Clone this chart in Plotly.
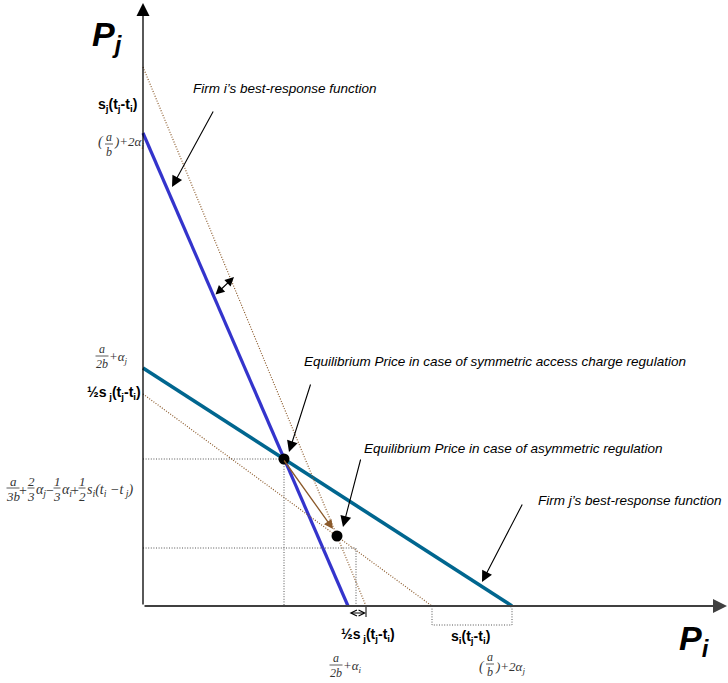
import plotly.graph_objects as go

# ---------------- data (P_i horizontal, P_j vertical, origin = 0) ----------------
firm_i_br_pi = [0, 205]      # Firm i's best-response function
firm_i_br_pj = [473, 0]
firm_j_br_pi = [0, 369]      # Firm j's best-response function
firm_j_br_pj = [238, 0]
firm_i_asym_pi = [0, 223]    # shifted best response of firm i (asymmetric)
firm_i_asym_pj = [539, 0]
firm_j_asym_pi = [0, 289]    # shifted best response of firm j (asymmetric)
firm_j_asym_pj = [212, 0]
eq_sym = [141, 147]          # equilibrium, symmetric regulation
eq_asym = [194, 70]          # equilibrium, asymmetric regulation
asym_guide = [213, 58]       # dotted guide corner for asymmetric case

# ---------------- layout helpers ----------------
OX, OY = 143, 606  # pixel position of origin
def px(x):
    return x - OX
def py(y):
    return OY - y

SANS = "Liberation Sans, Arial, sans-serif"
SERIF = "Liberation Serif, Times New Roman, serif"
BLUE = "#3434CC"
TEAL = "#00668F"
BROWN = "#8B5A2B"
GRID = "#555555"
DOT = "1px,1.6px"

fig = go.Figure()

# best-response lines
fig.add_trace(go.Scatter(x=firm_i_br_pi, y=firm_i_br_pj, mode="lines",
                         line=dict(color=BLUE, width=3.2), hoverinfo="skip"))
fig.add_trace(go.Scatter(x=firm_j_br_pi, y=firm_j_br_pj, mode="lines",
                         line=dict(color=TEAL, width=3.6), hoverinfo="skip"))
fig.add_trace(go.Scatter(x=firm_i_asym_pi, y=firm_i_asym_pj, mode="lines",
                         line=dict(color=BROWN, width=1.2, dash=DOT), hoverinfo="skip"))
fig.add_trace(go.Scatter(x=firm_j_asym_pi, y=firm_j_asym_pj, mode="lines",
                         line=dict(color=BROWN, width=1.2, dash=DOT), hoverinfo="skip"))

# dotted guides
fig.add_trace(go.Scatter(x=[0, eq_sym[0], eq_sym[0]], y=[eq_sym[1], eq_sym[1], 0], mode="lines",
                         line=dict(color=GRID, width=1, dash=DOT), hoverinfo="skip"))
fig.add_trace(go.Scatter(x=[0, asym_guide[0], asym_guide[0]], y=[asym_guide[1], asym_guide[1], 0],
                         mode="lines", line=dict(color=GRID, width=1, dash=DOT), hoverinfo="skip"))
# bracket under the axis
fig.add_trace(go.Scatter(x=[firm_j_asym_pi[1], firm_j_asym_pi[1], firm_j_br_pi[1], firm_j_br_pi[1]],
                         y=[0, -19, -19, 0], mode="lines",
                         line=dict(color=GRID, width=1, dash=DOT), hoverinfo="skip"))

# equilibrium points
fig.add_trace(go.Scatter(x=[eq_sym[0], eq_asym[0]], y=[eq_sym[1], eq_asym[1]], mode="markers",
                         marker=dict(color="black", size=11, symbol="circle"), hoverinfo="skip"))

ann = []
shapes = []

def arrow(x0, y0, x1, y1, color="black", width=1.0, size=2.2, head=2, both=False):
    """Arrow from pixel (x0,y0) to tip (x1,y1)."""
    ann.append(dict(x=px(x1), y=py(y1), ax=px(x0), ay=py(y0), xref="x", yref="y",
                    axref="x", ayref="y", text="", showarrow=True, arrowhead=head,
                    startarrowhead=head, arrowsize=size, startarrowsize=size,
                    arrowwidth=width, arrowcolor=color, standoff=0, startstandoff=0,
                    arrowside="end+start" if both else "end",
                    font=dict(size=12)))

def txt(x, y, text, size=12, family=SANS, color="black", xanchor="center", yanchor="middle"):
    ann.append(dict(x=px(x), y=py(y), xref="x", yref="y", text=text, showarrow=False,
                    font=dict(size=size, family=family, color=color),
                    xanchor=xanchor, yanchor=yanchor, borderpad=0))

def frac(xc, ybar, num, den, w=9, size=12, color="#333333"):
    txt(xc, ybar - 7, "<i>%s</i>" % num, size=size, family=SERIF, color=color)
    txt(xc, ybar + 8, "<i>%s</i>" % den, size=size, family=SERIF, color=color)
    shapes.append(dict(type="line", xref="x", yref="y", x0=px(xc - w / 2), x1=px(xc + w / 2),
                       y0=py(ybar), y1=py(ybar), line=dict(color=color, width=0.8)))

# axes with arrowheads
arrow(OX, OY, OX, 3, color="black", width=1.3, size=2.0)
arrow(OX, OY, 727, OY, color="#404040", width=2.0, size=1.4)

# pointer arrows
arrow(214, 110, 172, 187, width=1.1, size=2.0)
arrow(311, 383, 289, 452, width=1.1, size=2.0)
arrow(361, 458, 343, 527, width=1.1, size=2.0)
arrow(523, 503, 482, 582, width=1.1, size=2.0)
arrow(214, 296, 234, 277, width=1.2, size=1.5, both=True)
arrow(283, 459, 333, 529, color=BROWN, width=1.3, size=1.4)
arrow(348, 613, 366, 613, width=1.0, size=1.2, head=5, both=True)
shapes.append(dict(type="line", xref="x", yref="y", x0=px(366), x1=px(366), y0=py(607),
                   y1=py(617), line=dict(color="black", width=1)))

# italic annotation texts
txt(192, 88, "<i>Firm i’s best-response function</i>", size=13.5, xanchor="left")
txt(303, 361, "<i>Equilibrium Price in case of symmetric access charge regulation</i>", size=13.5, xanchor="left")
txt(363, 448, "<i>Equilibrium Price in case of asymmetric regulation</i>", size=13.5, xanchor="left")
txt(537, 500, "<i>Firm j’s best-response function</i>", size=13.5, xanchor="left")

# axis titles
txt(107, 36, "<b><i>P<sub>j</sub></i></b>", size=34)
txt(694, 640, "<b><i>P<sub>i</sub></i></b>", size=34)

# bold s-labels
txt(97, 105, "<b>s<sub>j</sub>(t<sub>j</sub>-t<sub>i</sub>)</b>", size=14, xanchor="left")
txt(142, 393, "<b>½s<sub> j</sub>(t<sub>j</sub>-t<sub>i</sub>)</b>", size=14, xanchor="right")
txt(340, 635, "<b>½s<sub> j</sub>(t<sub>j</sub>-t<sub>i</sub>)</b>", size=14, xanchor="left")
txt(450, 637, "<b>s<sub>i</sub>(t<sub>j</sub>-t<sub>i</sub>)</b>", size=14, xanchor="left")

G = "#333333"
# (a/b)+2alpha_i on vertical axis
txt(101, 142, "<i>(</i>", size=14, family=SERIF, color=G)
frac(109, 144, "a", "b", w=8)
txt(113, 142, "<i>)+2α<sub>i</sub></i>", size=13, family=SERIF, color=G, xanchor="left")
# a/2b + alpha_j
frac(102, 356, "a", "2b", w=13)
txt(108, 357, "<i>+α<sub>j</sub></i>", size=13, family=SERIF, color=G, xanchor="left")
# equilibrium formula
frac(13, 488, "a", "3b", w=13, size=13)
txt(23, 490, "+", size=14, family=SERIF, color=G)
frac(31, 488, "2", "3", w=7, size=13)
txt(35, 490, "<i>α<sub>j</sub></i>", size=14, family=SERIF, color=G, xanchor="left")
txt(50, 490, "−", size=14, family=SERIF, color=G)
frac(57, 488, "1", "3", w=7, size=13)
txt(61, 490, "<i>α<sub>i</sub></i>", size=14, family=SERIF, color=G, xanchor="left")
txt(75, 490, "+", size=14, family=SERIF, color=G)
frac(82, 488, "1", "2", w=7, size=13)
txt(86, 490, "<i>s<sub>i</sub>(t<sub>i</sub> −t<sub> j</sub>)</i>", size=14, family=SERIF, color=G, xanchor="left")
# bottom labels
frac(336, 665, "a", "2b", w=13)
txt(342, 666, "<i>+α<sub>i</sub></i>", size=13, family=SERIF, color=G, xanchor="left")
txt(482, 667, "<i>(</i>", size=14, family=SERIF, color=G)
frac(490, 664, "a", "b", w=8)
txt(494, 667, "<i>)+2α<sub>j</sub></i>", size=13, family=SERIF, color=G, xanchor="left")

fig.update_layout(
    width=728, height=683, margin=dict(l=0, r=0, t=0, b=0),
    paper_bgcolor="white", plot_bgcolor="white", showlegend=False,
    xaxis=dict(range=[px(0), px(728)], visible=False, fixedrange=True),
    yaxis=dict(range=[py(683), py(0)], visible=False, fixedrange=True),
    annotations=ann, shapes=shapes,
)

fig.write_html("out.html")
